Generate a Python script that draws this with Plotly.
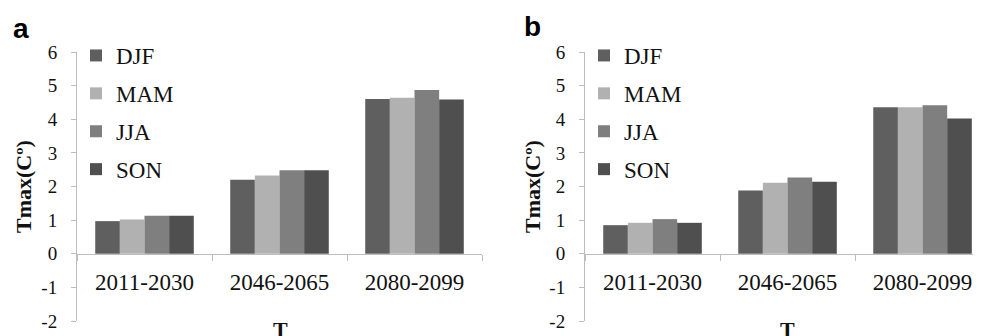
import plotly.graph_objects as go

periods = ["2011-2030", "2046-2065", "2080-2099"]
seasons = ["DJF", "MAM", "JJA", "SON"]
colors = ["#5f5f5f", "#b1b1b1", "#7f7f7f", "#4f4f4f"]

# panel a values (Tmax change, °C)
a_djf = [0.97, 2.20, 4.60]
a_mam = [1.02, 2.33, 4.64]
a_jja = [1.13, 2.48, 4.87]
a_son = [1.13, 2.48, 4.59]

# panel b values
b_djf = [0.85, 1.88, 4.36]
b_mam = [0.92, 2.11, 4.36]
b_jja = [1.03, 2.27, 4.42]
b_son = [0.92, 2.14, 4.02]

y_ticks = [-2, -1, 0, 1, 2, 3, 4, 5, 6]
y_ticktext = ["-2", "-1", "0", "1", "2", "3", "4", "5", "6"]

# the page body has an 8px margin, so the figure is drawn offset by (8, 8)
OFF = 8
W, H = 981 - OFF, 336 - OFF
# screen-pixel layout targets
S_LEFT, S_TOP, S_BOT = 77, 52, 321
L, R, T, B = S_LEFT - OFF, 0, 4, (H + OFF) - S_BOT
PW = W - L - R
PH = H - T - B

def px(sx):
    return (sx - OFF - L) / PW

def py(sy):
    return (H - B - (sy - OFF)) / PH

serif = "Liberation Serif"

fig = go.Figure()
for i, (s, c) in enumerate(zip(seasons, colors)):
    fig.add_trace(go.Bar(x=periods, y=[a_djf, a_mam, a_jja, a_son][i], name=s,
                         marker=dict(color=c, line=dict(width=0)),
                         xaxis="x", yaxis="y", legend="legend",
                         legendgroup="a" + s))
for i, (s, c) in enumerate(zip(seasons, colors)):
    fig.add_trace(go.Bar(x=periods, y=[b_djf, b_mam, b_jja, b_son][i], name=s,
                         marker=dict(color=c, line=dict(width=0)),
                         xaxis="x2", yaxis="y2", legend="legend2",
                         legendgroup="b" + s))

axcol = "#bdbdbd"
xcommon = dict(type="category", showline=True, linecolor=axcol, linewidth=1,
               ticks="outside", tickson="boundaries", ticklen=6, tickcolor=axcol,
               tickfont=dict(family=serif, size=23, color="#111"),
               showgrid=False, zeroline=False, anchor="free", position=py(254),
               ticklabelstandoff=7, automargin=False)
ycommon = dict(range=[-2, 6], tickvals=y_ticks, ticktext=y_ticktext,
               showline=True, linecolor=axcol,
               linewidth=1, ticks="outside", ticklen=5, tickcolor=axcol,
               tickfont=dict(family=serif, size=19, color="#111"),
               showgrid=False, zeroline=False, domain=[0, py(S_TOP)],
               ticklabelstandoff=10, automargin=False)

legcommon = dict(font=dict(family=serif, size=23, color="#111"),
                 bgcolor="rgba(0,0,0,0)", tracegroupgap=5,
                 xanchor="left", yanchor="top", traceorder="grouped")

fig.update_layout(
    width=W, height=H,
    margin=dict(l=L, r=R, t=T, b=B, autoexpand=False),
    paper_bgcolor="white", plot_bgcolor="white",
    barmode="group", bargap=0.27, bargroupgap=0,
    xaxis=dict(domain=[0, px(482)], range=[-0.5, 2.5], **xcommon),
    xaxis2=dict(domain=[px(585), 1], range=[-0.5, 2.433], **xcommon),
    yaxis=dict(anchor="x", **ycommon),
    yaxis2=dict(anchor="x2", **ycommon),
    legend=dict(x=px(76), y=py(34), **legcommon),
    legend2=dict(x=px(584), y=py(34), **legcommon),
    showlegend=True,
)

ann = [
    dict(text="<b>Tmax(Cº)</b>", x=px(23), y=py(187), textangle=-90,
         font=dict(family=serif, size=22, color="#111")),
    dict(text="<b>Tmax(Cº)</b>", x=px(532), y=py(187), textangle=-90,
         font=dict(family=serif, size=22, color="#111")),
    dict(text="<b>T</b>", x=px(280), y=py(329),
         font=dict(family=serif, size=22, color="#111")),
    dict(text="<b>T</b>", x=px(787), y=py(329),
         font=dict(family=serif, size=22, color="#111")),
    dict(text="<b>a</b>", x=px(21), y=py(28),
         font=dict(family="Liberation Sans", size=28, color="#000")),
    dict(text="<b>b</b>", x=px(532), y=py(26),
         font=dict(family="Liberation Sans", size=28, color="#000")),
]
for a in ann:
    fig.add_annotation(xref="paper", yref="paper", showarrow=False,
                       xanchor="center", yanchor="middle", **a)

fig.write_html("out.html")
